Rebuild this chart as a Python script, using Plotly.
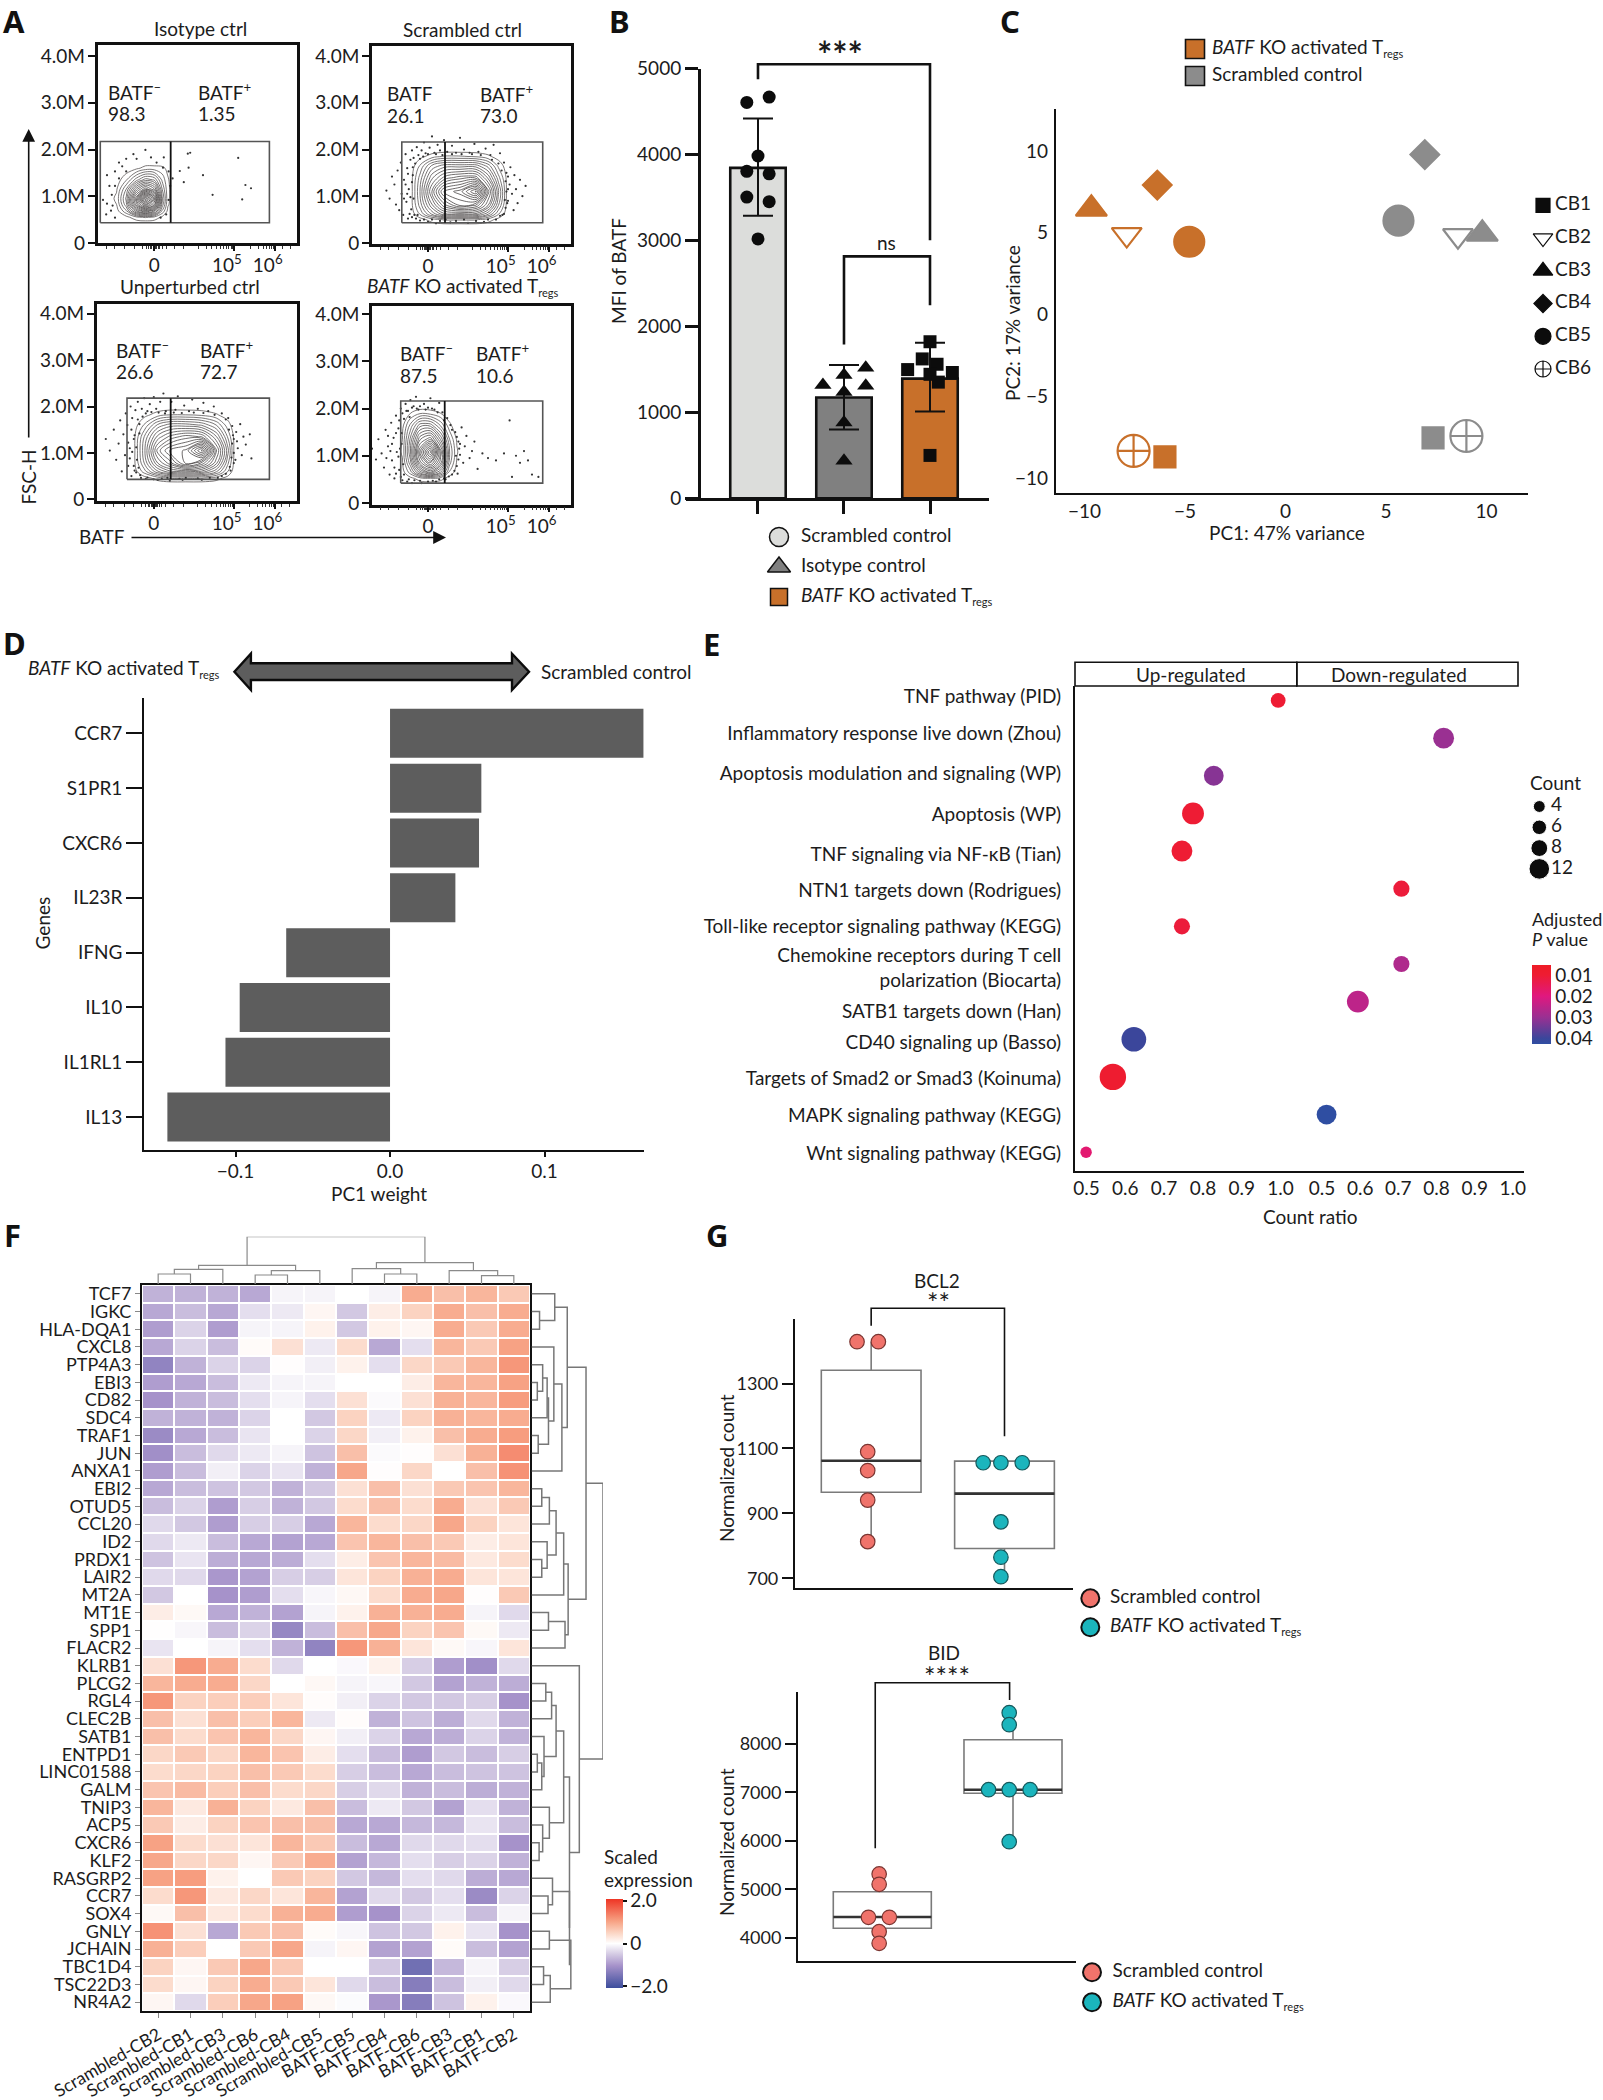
import plotly.graph_objects as go

W, H = 1603, 2100
FONT = "Lato, Open Sans, sans-serif"
FS = 19
INK = "#1c1c1c"
TREGS = "<i>BATF</i> KO activated T<sub><span style='font-size:11px'>regs</span></sub>"

# ---------- Panel A: flow cytometry ----------
flow_titles = ["Isotype ctrl", "Scrambled ctrl", "Unperturbed ctrl", TREGS]
flow_neg_labels = ["BATF<sup>–</sup>", "BATF", "BATF<sup>–</sup>", "BATF<sup>–</sup>"]
flow_neg_pct = ["98.3", "26.1", "26.6", "87.5"]
flow_pos_pct = ["1.35", "73.0", "72.7", "10.6"]
flow_y_ticks = [0, 1, 2, 3, 4]
flow_y_text = ["0", "1.0M", "2.0M", "3.0M", "4.0M"]
flow_x_ticks = [0, 1.0, 1.51]
flow_x_text = ["0", "10<sup>5</sup>&nbsp;&nbsp;&nbsp;", "10<sup>6</sup>&nbsp;&nbsp;&nbsp;"]
flow_x_minor = [-.6, -.5, -.37, -.25, -.15, -.1, -.07, -.05, -.03, -.015, .015, .03, .05, .07, .1, .15, .25, .37,
                .55, .65, .72, .78, .83, .87, .9, .93, .96, .98, 1.2, 1.3, 1.36, 1.4, 1.44, 1.47, 1.49, 1.6, 1.7]
gate_left = [-.674, -.3275, -.335, -.341]
gate_mid = [.206, .2125, .211, .209]
gate_right = [1.44, 1.434, 1.445, 1.434]
gate_low = [.43, .43, .43, .42]
gate_high = [2.17, 2.16, 2.18, 2.16]

grid_x_1 = [-.6, -.47, -.35, -.22, -.11, 0, .1, .17, .26]
grid_y_1 = [.42, .55, .68, .82, .95, 1.15, 1.35, 1.6, 1.75]
grid_z_1 = [[0, 0, 0, 0, 0, 0, 0, 0, 0],
            [0, 0, .3, 1.2, 1.5, 1.2, .4, 0, 0],
            [0, .2, 2, 6, 8, 6, 2, .4, 0],
            [0, .6, 3.5, 10, 14, 11, 3.5, .7, 0],
            [0, .8, 4, 11, 18, 13, 4, .8, 0],
            [0, .5, 3, 7.5, 10, 8, 3, .8, 0],
            [0, .1, 1.3, 3.5, 5, 4.5, 2, .7, 0],
            [0, 0, 0, .4, .9, .9, .8, .4, 0],
            [0, 0, 0, 0, 0, 0, 0, 0, 0]]
grid_x_2 = [-.35, -.2, -.1, .05, .2, .4, .6, .75, .88, .98, 1.1]
grid_y_2 = [.35, .5, .62, .8, 1.1, 1.4, 1.65, 1.85, 2.0]
grid_z_2 = [[0, 0, 0, 0, 0, 0, 0, 0, 0, 0, 0],
            [0, 0, .2, 1, 1.5, 1.5, 1.5, 1, .3, 0, 0],
            [0, .2, 1.5, 4, 6, 6, 6, 4, 1.5, .2, 0],
            [0, .5, 2.5, 6, 9, 11, 10, 7, 3, .5, 0],
            [0, .5, 3, 8, 12, 13, 16, 9, 4, .6, 0],
            [0, .5, 2.5, 6, 8, 9, 9, 6, 2.5, .5, 0],
            [0, .2, 1.5, 4, 5, 5, 5, 3.5, 1.2, .2, 0],
            [0, 0, .3, 1, 1.5, 1.5, 1.3, .8, .2, 0, 0],
            [0, 0, 0, 0, 0, 0, 0, 0, 0, 0, 0]]
grid_x_3 = [-.38, -.24, -.12, .05, .2, .4, .6, .78, .92, 1.0, 1.1]
grid_y_3 = [.32, .46, .6, .78, 1.05, 1.35, 1.6, 1.82, 2.0]
grid_z_3 = [[0, 0, 0, 0, 0, 0, 0, 0, 0, 0, 0],
            [0, 0, .2, 1, 1.5, 1.5, 1.5, 1, .3, 0, 0],
            [0, .2, 1.8, 4.5, 6, 6.5, 6, 4, 1.5, .2, 0],
            [0, .5, 3, 7, 9, 12, 10, 6.5, 2.5, .5, 0],
            [0, .5, 3.5, 9, 11, 12, 16, 8, 3.5, .6, 0],
            [0, .5, 3, 6.5, 8, 9, 8.5, 5.5, 2.2, .5, 0],
            [0, .2, 1.5, 4, 5, 5, 4.5, 3, 1, .2, 0],
            [0, 0, .3, 1, 1.4, 1.4, 1.2, .7, .2, 0, 0],
            [0, 0, 0, 0, 0, 0, 0, 0, 0, 0, 0]]
grid_x_4 = [-.45, -.32, -.22, -.1, .03, .16, .27, .36, .45]
grid_y_4 = [.38, .52, .65, .85, 1.08, 1.35, 1.65, 1.9, 2.05]
grid_z_4 = [[0, 0, 0, 0, 0, 0, 0, 0, 0],
            [0, 0, .3, 1, 1.3, .9, .2, 0, 0],
            [0, .2, 1.8, 5, 7, 4.5, 1.2, .2, 0],
            [0, .5, 3.5, 9, 12, 8, 2.5, .5, 0],
            [0, .7, 4.5, 11, 16, 9, 3, .7, 0],
            [0, .6, 4, 8.5, 10, 6, 2.2, .5, 0],
            [0, .3, 2.4, 5, 5, 2.8, .8, 0, 0],
            [0, 0, .6, 1.3, 1.1, .6, 0, 0, 0],
            [0, 0, 0, 0, 0, 0, 0, 0, 0]]

events_1 = [(-.59,1.45),(-.56,1.22),(-.53,1.03),(-.49,1.53),(-.44,1.72),(-.40,1.64),(-.26,1.90),(-.22,1.80),(-.11,1.99),(-.04,1.83),(.03,1.72),(.11,1.61),(.18,1.53),(.32,1.54),(.42,1.91),(.45,1.93),(.43,1.61),(.37,1.30),(.61,1.45),(1.05,1.82),(1.14,1.24),(1.21,1.17),(.73,1.03),(1.10,.93),(-.60,.61),(-.54,.69),(-.59,.84),(-.64,.92),(-.49,.54),(-.52,.80),(.08,.54),(.15,.61),(.18,.92),(.20,1.22),(.23,1.38),(-.35,1.80),(.12,1.83),(-.49,1.22),(-.44,1.38),(-.35,1.53)]
events_2 = [(-.52,1.12),(-.48,.95),(-.45,1.42),(-.42,1.25),(-.4,.82),(-.38,1.55),(-.36,.7),(-.34,1.72),(-.33,1.05),(-.31,.6),(-.3,1.35),(-.28,1.9),(-.27,.88),(-.26,1.6),(-.25,.52),(-.24,1.15),(-.22,1.78),(-.21,.72),(-.2,1.98),(-.19,1.45),(-.18,.95),(-.17,.6),(-.16,1.7),(-.14,2.05),(-.12,1.88),(-.1,.48),(-.08,1.98),(-.05,2.15),(-.03,1.92),(0,.45),(.02,2.04),(.05,2.28),(.08,1.93),(.1,.42),(.12,2.1),(.15,1.98),(.2,2.2),(.24,1.95),(.28,.44),(.3,2.08),(.35,1.93),(.4,2.25),(.45,2.0),(.5,.43),(.52,1.93),(.58,2.12),(.63,1.95),(.7,.45),(.72,2.02),(.78,1.88),(.82,2.1),(.85,.5),(.9,1.92),(.93,.6),(.95,1.72),(.97,.75),(.98,1.5),(1,.9),(1.02,1.25),(1.03,1.62),(1.05,1.05),(1.07,.7),(1.08,1.45),(1.1,1.15),(1.12,.85),(1.15,1.35),(1.18,1.0),(1.22,1.22),
            (-.3,.95),(-.28,1.25),(-.26,1.05),(-.25,1.48),(-.23,.62),(-.22,.98),(-.2,1.3),(-.2,.55),(-.19,1.62),(-.18,1.82),(-.15,.52),(-.13,.6),(-.1,1.8),(-.06,1.85),(-.05,.5),(0,1.9),(.05,.5),(.1,1.9),(.15,.47),(.18,1.88),(.22,.5),(.3,1.9),(.35,.47),(.42,1.9),(.45,.5),(.55,1.9),(.6,.47),(.66,1.88),(.75,.5),(.8,1.78),(.88,1.7),(.9,.58),(.92,1.55),(.95,.62),(.97,1.32),(.98,1.1),(.99,.85),(1.0,1.42),(.96,.92),(1.0,1.15)]
events_3 = [(-.6,1.3),(-.55,1.05),(-.5,1.5),(-.47,.85),(-.44,1.2),(-.42,1.7),(-.4,.6),(-.38,1.4),(-.36,.95),(-.35,1.85),(-.33,1.6),(-.32,.72),(-.3,1.1),(-.29,2.0),(-.28,.5),(-.27,1.75),(-.25,1.3),(-.24,.62),(-.23,1.92),(-.21,.85),(-.2,2.1),(-.18,1.62),(-.17,.52),(-.15,1.95),(-.12,2.18),(-.1,.44),(-.08,1.9),(-.05,2.05),(0,2.2),(.03,1.95),(.05,.42),(.08,2.1),(.12,2.28),(.15,1.9),(.2,.4),(.22,2.1),(.27,1.93),(.3,2.22),(.36,.42),(.38,2.02),(.44,1.9),(.48,2.15),(.55,1.95),(.6,.42),(.62,2.08),(.68,1.9),(.75,2.0),(.8,.46),(.85,1.85),(.9,.55),(.93,1.75),(.95,.7),(.98,1.58),(1,1.3),(1.02,.85),(1.03,1.45),(1.05,1.1),(1.08,1.62),(1.1,.95),(1.12,1.35),(1.15,1.18),(1.2,1.4),(1.22,.88),
            (-.32,1.22),(-.3,.88),(-.28,1.5),(-.27,1.02),(-.25,.72),(-.24,1.38),(-.22,1.12),(-.22,.58),(-.2,1.72),(-.19,.68),(-.18,1.42),(-.16,.46),(-.14,1.78),(-.1,1.85),(-.08,.47),(-.03,1.88),(0,.43),(.06,1.87),(.1,.44),(.14,1.85),(.17,.46),(.25,1.87),(.32,.44),(.35,1.86),(.4,.46),(.5,1.87),(.55,.45),(.62,1.86),(.7,.46),(.76,1.82),(.85,.5),(.9,1.72),(.94,1.5),(.96,.62),(.98,1.2),(1,1.0),(.99,1.38),(1.0,.78),(.97,.9),(1.04,1.25)]
events_4 = [(-.7,1.15),(-.65,.92),(-.62,1.35),(-.58,1.05),(-.55,.75),(-.53,1.55),(-.5,1.2),(-.48,.6),(-.46,1.7),(-.45,.9),(-.43,1.38),(-.42,.52),(-.4,1.85),(-.39,1.08),(-.37,1.58),(-.36,.7),(-.34,2.0),(-.33,1.25),(-.32,.48),(-.3,1.78),(-.28,2.1),(-.26,.45),(-.25,1.95),(-.22,2.18),(-.2,.42),(-.18,2.05),(-.15,2.25),(-.12,1.98),(-.08,.42),(-.05,2.1),(0,2.02),(.03,2.22),(.08,1.98),(.1,.45),(.14,2.12),(.18,1.92),(.22,.5),(.24,1.8),(.28,1.65),(.3,.6),(.34,1.5),(.36,.78),(.38,1.3),(.4,1.02),(.42,1.6),(.44,.85),(.46,1.2),(.48,1.42),(.52,.95),(.55,1.1),(.58,1.3),(.62,.72),(.68,1.05),(.75,.95),(.85,.9),(.95,1.05),(1.02,1.75),(1.1,1.0),(1.15,.85),(1.2,1.1),(1.25,.9),(1.3,.6),(1.05,.55),(1.38,.55),
            (-.52,.95),(-.5,1.42),(-.47,1.1),(-.45,1.25),(-.42,.75),(-.4,1.48),(-.4,.62),(-.37,.98),(-.36,1.75),(-.35,1.15),(-.34,.55),(-.33,1.48),(-.32,1.9),(-.31,.82),(-.3,.6),(-.27,1.95),(-.24,.5),(-.23,1.82),(-.2,2.02),(-.17,.48),(-.14,2.0),(-.1,2.05),(-.1,.47),(-.03,1.98),(0,.45),(.05,2.0),(.06,.47),(.12,1.92),(.14,.5),(.2,1.75),(.2,.52),(.26,.56),(.3,1.55),(.33,.68),(.36,1.4),(.38,.92),(.39,1.15),(.4,1.25),(.37,.62),(.35,1.0)]

# ---------- Panel B ----------
mfi_means = [3845, 1172, 1392]
mfi_upper = [4419, 1551, 1808]
mfi_lower = [3288, 799, 1010]
mfi_names = ["Scrambled control", "Isotype control", TREGS]
mfi_scr_pos = [.13, -.13, 0, -.13, .13, -.13, .13, 0]
mfi_scr = [4669, 4606, 3983, 3804, 3775, 3505, 3451, 3018]
mfi_iso_pos = [.253, -.245, 0, .253, 0, 0, 0]
mfi_iso = [1517, 1318, 1434, 1310, 1235, 881, 436]
mfi_ko_pos = [0, -.09, .082, -.26, .26, 0, .097, 0]
mfi_ko = [1821, 1621, 1559, 1497, 1463, 1442, 1351, 498]

# ---------- Panel C ----------
donors = ["CB1", "CB2", "CB3", "CB4", "CB5", "CB6"]
pc1_ko = [-6.0, -7.9, -9.66, -6.38, -4.79, -7.56]
pc2_ko = [-8.72, 4.88, 6.45, 7.91, 4.44, -8.35]
pc1_scr = [7.34, 8.58, 9.79, 6.93, 5.62, 9.0]
pc2_scr = [-7.55, 4.81, 4.92, 9.77, 5.73, -7.44]

# ---------- Panel D ----------
pc_genes = ["CCR7", "S1PR1", "CXCR6", "IL23R", "IFNG", "IL10", "IL1RL1", "IL13"]
pc_weights = [.164, .0591, .0576, .0423, -.0672, -.0973, -.1065, -.1441]

# ---------- Panel E ----------
pathways = ["TNF pathway (PID)", "Inflammatory response live down (Zhou)", "Apoptosis modulation and signaling (WP)",
            "Apoptosis (WP)", "TNF signaling via NF-κB (Tian)", "NTN1 targets down (Rodrigues)",
            "Toll-like receptor signaling pathway (KEGG)",
            "Chemokine receptors during T cell<br>polarization (Biocarta)", "SATB1 targets down (Han)",
            "CD40 signaling up (Basso)", "Targets of Smad2 or Smad3 (Koinuma)", "MAPK signaling pathway (KEGG)",
            "Wnt signaling pathway (KEGG)"]
path_label_rows = [-.11, .885, 1.93, 3.02, 4.09, 5.05, 6.0, 7.11, 8.26, 9.09, 10.05, 11.03, 12.04]
path_up = [True, False, True, True, True, False, True, False, False, True, True, False, True]
path_ratio = [.994, .8186, .828, .7745, .746, .708, .746, .708, .594, .622, .568, .512, .499]
path_count = [5, 10, 9, 11, 10, 6, 6, 6, 11, 14, 16, 9, 3]
path_padj = [.01, .03, .032, .01, .01, .011, .011, .027, .025, .04, .009, .043, .018]
count_key = [4, 6, 8, 12]

# ---------- Panel F ----------
heat_cols = ["Scrambled-CB2", "Scrambled-CB1", "Scrambled-CB3", "Scrambled-CB6", "Scrambled-CB4", "Scrambled-CB5",
             "BATF-CB5", "BATF-CB4", "BATF-CB6", "BATF-CB3", "BATF-CB1", "BATF-CB2"]
heat_rows = ["TCF7", "IGKC", "HLA-DQA1", "CXCL8", "PTP4A3", "EBI3", "CD82", "SDC4", "TRAF1", "JUN", "ANXA1", "EBI2",
             "OTUD5", "CCL20", "ID2", "PRDX1", "LAIR2", "MT2A", "MT1E", "SPP1", "FLACR2", "KLRB1", "PLCG2", "RGL4",
             "CLEC2B", "SATB1", "ENTPD1", "LINC01588", "GALM", "TNIP3", "ACP5", "CXCR6", "KLF2", "RASGRP2", "CCR7",
             "SOX4", "GNLY", "JCHAIN", "TBC1D4", "TSC22D3", "NR4A2"]
heat_values = [
    [-.7,-.7,-.7,-.8,-.1,-.1,0,-.1,.9,.7,.8,.6],
    [-.8,-.6,-.8,-.3,-.2,.1,-.5,.2,.5,.9,.7,.9],
    [-.9,-.4,-.9,-.1,-.1,.15,-.5,.15,.1,.9,.6,.9],
    [-.8,-.4,-.6,.05,.35,-.2,.4,-.8,-.3,.8,.6,1.0],
    [-1.2,-.7,-.4,-.4,.02,-.15,.15,-.3,.45,.6,.8,1.1],
    [-.9,-.8,-.6,-.2,-.1,-.1,0,0,.2,.8,.8,1.0],
    [-1.0,-.7,-.6,-.3,-.1,-.3,.35,-.05,.35,.85,.8,1.05],
    [-.7,-.7,-.7,-.4,0,-.5,.5,-.2,.5,.85,.8,.9],
    [-1.1,-.8,-.6,-.25,0,-.4,.45,-.15,.15,.7,.9,1.05],
    [-1.05,-.6,-.35,-.2,-.1,-.55,.7,-.05,.02,.35,.85,1.2],
    [-.9,-.6,-.15,-.4,-.25,-.7,.95,.02,.45,0,.7,1.15],
    [-.8,-.6,-.55,-.5,-.7,-.5,.35,.7,.35,.6,.65,.8],
    [-.6,-.4,-.9,-.45,-.7,-.5,.4,.7,.4,.9,.35,.6],
    [-.35,-.5,-.9,-.45,-.45,-.8,.8,.4,.45,.95,.5,.3],
    [-.35,-.2,-.6,-.8,-.85,-.8,.65,.8,.7,.6,.2,.3],
    [-.55,-.25,-.75,-.8,-.75,-.3,.2,.65,.8,.75,.25,.4],
    [-.35,-.35,-.95,-.85,-.45,-.45,.3,.5,.85,.9,.3,.3],
    [-.5,0,-1.0,-.9,-.3,-.08,.08,.4,.9,.95,.02,.6],
    [.2,.07,-.8,-.7,-.85,-.1,.15,.85,.85,.9,-.1,-.35],
    [.01,-.08,-.6,-.4,-1.15,-.6,.7,.95,.5,.65,.07,-.2],
    [-.25,0,-.1,-.3,-.7,-1.2,1.1,.85,.3,.07,-.08,.3],
    [.35,1.1,.9,.4,-.35,0,-.06,.15,-.45,-.9,-1.05,-.35],
    [.8,.9,.9,.45,0,.08,-.1,-.08,-.5,-.85,-.7,-.75],
    [1.1,.5,.55,.55,.3,.03,-.15,-.4,-.5,-.5,-.45,-1.0],
    [.7,.35,.7,.55,.8,-.2,.03,-.7,-.55,-.75,-.35,-.7],
    [.7,.4,.65,.8,.45,.1,-.15,-.4,-.8,-.75,-.4,-.7],
    [.45,.6,.45,.8,.65,.2,-.3,-.6,-.9,-.5,-.6,-.45],
    [.4,.45,.5,.7,.6,.4,-.45,-.6,-.8,-.6,-.55,-.55],
    [.65,.75,.55,.7,.4,.45,-.45,-.35,-.7,-.6,-.75,-.7],
    [.8,.25,.85,.5,.25,.7,-.6,-.2,-.5,-.85,-.3,-.7],
    [.6,.2,.5,.65,.7,.7,-.8,-.8,-.65,-.65,-.25,-.6],
    [1.0,.4,.35,.3,.8,.6,-.6,-.8,-.35,-.35,-.3,-1.0],
    [.95,.45,.45,.1,.6,.9,-.85,-.65,-.3,-.45,-.4,-.7],
    [1.0,1.05,.15,0,.6,.5,-.5,-.65,-.3,-.35,-.75,-.8],
    [.4,1.1,.25,.45,.3,.8,-.85,-.35,-.5,-.3,-1.1,-.4],
    [.07,.7,.25,.4,.85,.9,-.9,-1.0,-.4,-.2,-.6,-.1],
    [1.15,.35,-.8,.6,.7,.05,-.08,-.55,-.5,.15,-.25,-1.0],
    [.85,.55,0,.6,.95,-.1,.1,-.85,-.85,.05,-.6,-.85],
    [.5,.1,.6,.95,.6,0,0,-.5,-1.5,-.65,-.1,-.45],
    [.4,.1,.5,.9,.6,.3,-.35,-.6,-1.3,-.6,-.15,-.35],
    [.1,-.35,.55,.95,1.0,.08,-.04,-.95,-1.3,-.55,.15,-.06],
]
col_merges = [(0,1,30),(12,2,44),(3,4,27),(14,5,40),(13,15,56),(7,8,30),(6,17,46),(10,11,25),(9,19,40),(18,20,64),(16,21,142)]
row_merges = [(1,2,18),(0,41,52),(5,6,13),(4,43,25),(44,7,35),(8,9,15),(45,46,38),(3,47,50),(48,10,68),(42,49,80),
              (11,12,23),(51,13,40),(15,16,23),(14,53,35),(52,54,55),(55,17,72),(18,19,38),(57,20,75),(56,58,82),(50,59,122),
              (22,23,32),(61,24,45),(26,27,13),(63,28,23),(25,64,28),(62,65,55),(31,32,17),(30,67,25),(29,68,40),(66,69,72),
              (34,35,37),(33,71,47),(36,37,40),(38,39,27),(74,40,42),(73,75,88),(72,76,85),(70,77,85),(21,78,107),(60,79,160)]

# ---------- Panel G ----------
bcl2_scr_pos = [-.106, .054, -.026, -.026, -.026, -.026]
bcl2_scr = [1429, 1429, 1090, 1032, 941, 813]
bcl2_ko_pos = [-.16, -.027, .133, -.027, -.027, -.027]
bcl2_ko = [1056, 1056, 1056, 874, 765, 705]
bcl2_box = dict(q1=[965, 792], median=[1062, 961], q3=[1341, 1061], lowerfence=[813, 705], upperfence=[1429, 1061])
bid_scr_pos = [-.024, -.024, -.106, .054, -.024, -.024]
bid_scr = [5316, 5103, 4423, 4423, 4126, 3887]
bid_ko_pos = [-.029, -.029, -.187, -.029, .131, -.029]
bid_ko = [8641, 8394, 7054, 7054, 7054, 5981]
bid_box = dict(q1=[4196, 6979], median=[4429, 7054], q3=[4951, 8085], lowerfence=[3887, 5981], upperfence=[5316, 8641])

# ---------- Colours ----------
ORANGE = "#c8702a"
GREY = "#8c8c8c"
SALMON = "#f0736b"
TEAL = "#1bb5bd"

fig = go.Figure()
layout = dict(width=W, height=H, autosize=False, margin=dict(l=0, r=0, t=0, b=0, pad=0), paper_bgcolor="white",
              template="none",
              plot_bgcolor="rgba(0,0,0,0)", showlegend=False, font=dict(family=FONT, size=FS, color=INK),
              annotations=[], shapes=[])
axn = [0]


def hdom(a, b):
    return [a / W, b / W]


def vdom(top, bottom):
    return [1 - bottom / H, 1 - top / H]


def add_axes(xr, yr, xopts=None, yopts=None):
    axn[0] += 1
    n = axn[0]
    sfx = "" if n == 1 else str(n)
    base = dict(showgrid=False, zeroline=False, showline=False, ticks="", showticklabels=False, automargin=False,
                tickfont=dict(family=FONT, size=FS, color=INK))
    xa = dict(base, domain=hdom(*xr), anchor="y" + sfx)
    ya = dict(base, domain=vdom(*yr), anchor="x" + sfx)
    xa.update(xopts or {})
    ya.update(yopts or {})
    layout["xaxis" + sfx] = xa
    layout["yaxis" + sfx] = ya
    return "x" + sfx, "y" + sfx


def text(x, y, s, size=FS, xa="left", ya="middle", **kw):
    layout["annotations"].append(dict(x=x / W, y=1 - y / H, xref="paper", yref="paper", text=s, showarrow=False,
                                      xanchor=xa, yanchor=ya, borderpad=0, borderwidth=0,
                                      font=dict(family=kw.pop("family", FONT), size=size, color=kw.pop("color", INK)),
                                      **kw))


def letter(x, y, s):
    text(x, y, "<b>%s</b>" % s, size=31, family="Noto Sans, Open Sans, sans-serif", color="#111")


def arrow(x, y, dx, dy):
    layout["annotations"].append(dict(x=x / W, y=1 - y / H, xref="paper", yref="paper", text="", showarrow=True,
                                      ax=dx, ay=dy, axref="pixel", ayref="pixel", arrowhead=2, arrowsize=1.6,
                                      arrowwidth=1.6, arrowcolor="#111"))


def key(xc, text_left, rows, names, symbols, colors, sizes, lines=None, lw=1.5, size=FS):
    n = len(names)
    xa, ya = add_axes((xc, text_left), rows, dict(range=[0, 1], visible=False),
                      dict(range=[n - 1, 0], visible=False))
    fig.add_trace(go.Scatter(x=[0] * n, y=list(range(n)), xaxis=xa, yaxis=ya, mode="markers", cliponaxis=False,
                             hoverinfo="skip",
                             marker=dict(symbol=symbols, color=colors, size=sizes, opacity=1,
                                         line=dict(color=lines or "#111", width=lw))))
    fig.add_trace(go.Scatter(x=[1] * n, y=list(range(n)), xaxis=xa, yaxis=ya, mode="text", cliponaxis=False,
                             text=names, textposition="middle right", hoverinfo="skip",
                             textfont=dict(family=FONT, size=size, color=INK)))


def bracket(xr, yr, xrange, yrange, xs, ys, width, extra=40):
    # drawn on a hidden copy of the panel's axes, extended upward so the bar above the axis is kept
    top = yrange[1] + (yrange[1] - yrange[0]) * extra / (yr[1] - yr[0])
    xa, ya = add_axes(xr, (yr[0] - extra, yr[1]), dict(range=xrange, visible=False),
                      dict(range=[yrange[0], top], visible=False))
    fig.add_trace(go.Scatter(x=xs, y=ys, xaxis=xa, yaxis=ya, mode="lines", cliponaxis=False, hoverinfo="skip",
                             line=dict(color="#111", width=width)))


# ========== A ==========
flow_frames = [((97.6, 296.6), (45.4, 242.9), 154.2, 242.9, 46.7),
               ((372, 571), (46.4, 243.9), 428, 242.9, 46.7),
               ((96.8, 296.6), (303.6, 501), 153.8, 499.3, 46.4),
               ((372, 571), (306.4, 504.6), 428, 502.9, 47.15)]
flow_grids = [(grid_x_1, grid_y_1, grid_z_1), (grid_x_2, grid_y_2, grid_z_2),
              (grid_x_3, grid_y_3, grid_z_3), (grid_x_4, grid_y_4, grid_z_4)]
flow_events = [events_1, events_2, events_3, events_4]
flow_title_pos = [(200, 28.6), (462, 29.3), (190, 286.4), (463, 286.8)]
flow_neg_pos = [(107.5, 91.4, 113.6), (386.5, 93.6, 115), (115.6, 349.3, 371.4), (400, 352.9, 375)]
flow_pos_x = [197.9, 480, 199.8, 475.7]
for i in range(4):
    xr, yr, x0, y0, perm = flow_frames[i]
    scale = 80.0
    frame = dict(showline=True, mirror=True, linecolor="#111", linewidth=2.6, ticks="outside", tickcolor="#111",
                 tickwidth=2, showticklabels=True)
    xo = dict(frame, range=[(xr[0] - x0) / scale, (xr[1] - x0) / scale], tickmode="array", tickvals=flow_x_ticks,
              ticktext=flow_x_text, ticklen=5, ticklabelstandoff=-2, tickangle=0,
              minor=dict(tickmode="array", tickvals=flow_x_minor, ticks="outside", ticklen=3, tickwidth=1, tickcolor="#333"))
    yo = dict(frame, range=[(y0 - yr[1]) / perm, (y0 - yr[0]) / perm], tickmode="array", tickvals=flow_y_ticks,
              ticktext=flow_y_text, ticklen=7, ticklabelstandoff=-1)
    xa, ya = add_axes(xr, yr, xo, yo)
    gx, gy, gz = flow_grids[i]
    fig.add_trace(go.Contour(x=gx, y=gy, z=gz, xaxis=xa, yaxis=ya, showscale=False, hoverinfo="skip",
                             contours=dict(coloring="lines", start=.6, end=18, size=.8),
                             colorscale=[[0, "#5a5656"], [1, "#3e3a3a"]], line=dict(width=.8, smoothing=1.0)))
    ex = [e[0] for e in flow_events[i]]
    ey = [e[1] for e in flow_events[i]]
    fig.add_trace(go.Scatter(x=ex, y=ey, xaxis=xa, yaxis=ya, mode="markers", hoverinfo="skip",
                             marker=dict(size=2.2, color="#333")))
    gl, gm, gr, lo, hi = gate_left[i], gate_mid[i], gate_right[i], gate_low[i], gate_high[i]
    fig.add_trace(go.Scatter(x=[gl, gr, gr, gl, gl], y=[lo, lo, hi, hi, lo], xaxis=xa, yaxis=ya, mode="lines",
                             hoverinfo="skip", line=dict(color="#555", width=1.6)))
    fig.add_trace(go.Scatter(x=[gm, gm], y=[lo, hi], xaxis=xa, yaxis=ya, mode="lines", hoverinfo="skip",
                             line=dict(color="#111", width=1.8)))
    tx, ty = flow_title_pos[i]
    text(tx, ty, flow_titles[i], xa="center")
    nx, ny1, ny2 = flow_neg_pos[i]
    text(nx, ny1, flow_neg_labels[i])
    text(nx, ny2, flow_neg_pct[i])
    text(flow_pos_x[i], ny1, "BATF<sup>+</sup>")
    text(flow_pos_x[i], ny2, flow_pos_pct[i])
text(28.7, 476.8, "FSC-H", xa="center", textangle=-90)
text(102, 536.8, "BATF", xa="center")
arrow(28.7, 129, 0, 310)
arrow(446, 537.5, -316, 0)
letter(3, 21.4, "A")

# ========== B ==========
b_x, b_y = [-.837, 2.686], [0, 5000]
xa, ya = add_axes((686, 989), (68.6, 498.2),
                  dict(range=b_x, showline=True, linecolor="#111", linewidth=3.4, ticks="outside",
                       ticklen=13, tickwidth=2.5, tickcolor="#111", tickmode="array", tickvals=[0, 1, 2]),
                  dict(range=b_y, anchor="free", position=699 / W, showline=True, linecolor="#111", linewidth=3,
                       ticks="outside", ticklen=13, tickwidth=2.5, tickcolor="#111", showticklabels=True,
                       tickmode="array", tickvals=[0, 1000, 2000, 3000, 4000, 5000]))
fig.add_trace(go.Bar(x=[0, 1, 2], y=mfi_means, xaxis=xa, yaxis=ya, width=.645, hoverinfo="skip",
                     marker=dict(color=["#dcdddb", "#808080", ORANGE], line=dict(color="#111", width=2.6)),
                     error_y=dict(type="data", symmetric=False,
                                  array=[u - m for u, m in zip(mfi_upper, mfi_means)],
                                  arrayminus=[m - l for l, m in zip(mfi_lower, mfi_means)],
                                  color="#111", thickness=2, width=15)))
for cat, pos, vals, sym, sz in [(0, mfi_scr_pos, mfi_scr, "circle", 13), (1, mfi_iso_pos, mfi_iso, "triangle-up", 15),
                                (2, mfi_ko_pos, mfi_ko, "square", 13)]:
    fig.add_trace(go.Scatter(x=[cat + p for p in pos], y=vals, xaxis=xa, yaxis=ya, mode="markers", hoverinfo="skip",
                             cliponaxis=False, marker=dict(symbol=sym, size=sz, color="#0c0c0c")))
bracket((686, 989), (68.6, 498.2), b_x, b_y, [0, 0, 2, 2], [4877, 5051, 5051, 3001], 2.6)
bracket((686, 989), (68.6, 498.2), b_x, b_y, [1, 1, 2, 2], [1788, 2815, 2815, 2245], 2.6)
text(840, 54, "<b>***</b>", size=36, xa="center")
text(886, 243, "ns", xa="center")
text(618, 271, "MFI of BATF", xa="center", textangle=-90)
key(779, 801, (537, 597), mfi_names, ["circle", "triangle-up", "square"], ["#dcdddb", "#808080", ORANGE], [19, 20, 17])
letter(609, 21.4, "B")

# ========== C ==========
xa, ya = add_axes((1056, 1527.7), (109, 492.9),
                  dict(range=[-11.42, 12.05], showline=True, linecolor="#111", linewidth=2.2, showticklabels=True,
                       tickmode="array", tickvals=[-10, -5, 0, 5, 10], ticklabelstandoff=0),
                  dict(range=[-10.92, 12.56], showline=True, linecolor="#111", linewidth=2.2, showticklabels=True,
                       tickmode="array", tickvals=[-10, -5, 0, 5, 10], ticklabelstandoff=2))
pca_symbols = ["square", "triangle-down-open", "triangle-up", "diamond", "circle", "circle-cross-open"]
pca_sizes = [21, 26, 27, 22, 30, 32]
for xs, ys, col in [(pc1_ko, pc2_ko, ORANGE), (pc1_scr, pc2_scr, GREY)]:
    fig.add_trace(go.Scatter(x=xs, y=ys, xaxis=xa, yaxis=ya, mode="markers", hoverinfo="text", text=donors,
                             marker=dict(symbol=pca_symbols, size=pca_sizes, color=col, opacity=1,
                                         line=dict(color=col, width=2.2))))
text(1287, 532, "PC1: 47% variance", xa="center")
text(1012, 323, "PC2: 17% variance", xa="center", textangle=-90)
key(1195, 1212, (49, 76), [TREGS, "Scrambled control"], ["square", "square"], [ORANGE, GREY], [19, 19], lw=1.6)
key(1543, 1555, (205.4, 369), donors, pca_symbols, ["#0c0c0c"] * 6, [14, 17, 17, 14, 16, 16], lines="#0c0c0c", lw=1.2)
letter(1000, 21.4, "C")

# ========== D ==========
xa, ya = add_axes((144.2, 644.2), (697.7, 1150),
                  dict(range=[-.1591, .1645], showline=True, linecolor="#111", linewidth=2, ticks="outside", ticklen=5,
                       tickcolor="#111", tickwidth=1.5, showticklabels=True, tickmode="array",
                       tickvals=[-.1, 0, .1], ticktext=["−0.1", "0.0", "0.1"], ticklabelstandoff=-2),
                  dict(range=[7.6, -.65], type="linear", showline=True, linecolor="#111", linewidth=2, ticks="outside",
                       ticklen=16, tickcolor="#111", tickwidth=1.5, showticklabels=True, tickmode="array",
                       tickvals=list(range(len(pc_genes))), ticktext=pc_genes))
fig.add_trace(go.Bar(y=list(range(len(pc_genes))), x=pc_weights, orientation="h", xaxis=xa, yaxis=ya, width=.894,
                     hoverinfo="skip", marker=dict(color="#5d5d5d", line=dict(width=0))))
text(42.4, 923, "Genes", xa="center", textangle=-90)
text(378.6, 1193, "PC1 weight", xa="center")
text(27.7, 669, TREGS)
text(541, 671.7, "Scrambled control")
arrow_pts = [(234.4, 671.7), (250.9, 653.7), (250.9, 663.2), (512, 663.2), (512, 653.7), (529, 671.7), (512, 690),
             (512, 680), (250.9, 680), (250.9, 690)]
layout["shapes"].append(dict(type="path", xref="paper", yref="paper",
                             path="M " + " L ".join("%.5f,%.5f" % (a / W, 1 - b / H) for a, b in arrow_pts) + " Z",
                             fillcolor="#5d5d5d", line=dict(color="#0c0c0c", width=2.4)))
letter(3, 643, "D")

# ========== E ==========
e_y = dict(range=[12.5, -.385], showline=True, linecolor="#111", linewidth=2, showticklabels=True, tickmode="array",
           tickvals=path_label_rows, ticktext=pathways, ticklabelstandoff=8)
e_x = dict(showline=True, linecolor="#111", linewidth=2, showticklabels=True, tickmode="array",
           tickvals=[.5, .6, .7, .8, .9, 1.0], ticktext=["0.5", "0.6", "0.7", "0.8", "0.9", "1.0"], ticklabelstandoff=-1)
xl, yl = add_axes((1075, 1296.8), (686, 1171), dict(e_x, range=[.4704, 1.042]), e_y)
xr_, yr_ = add_axes((1296.8, 1524.3), (686, 1171), dict(e_x, range=[.434, 1.03]), dict(range=[12.5, -.385]))


def count_size(c):
    return 6.6 * c ** .5


for flag, xax, yax in [(True, xl, yl), (False, xr_, yr_)]:
    idx = [i for i, u in enumerate(path_up) if u == flag]
    fig.add_trace(go.Scatter(x=[path_ratio[i] for i in idx], y=idx, xaxis=xax, yaxis=yax, mode="markers",
                             hoverinfo="skip", cliponaxis=False,
                             marker=dict(size=[count_size(path_count[i]) for i in idx], opacity=1,
                                         color=[-path_padj[i] for i in idx], coloraxis="coloraxis",
                                         line=dict(width=0))))
layout["coloraxis"] = dict(cmin=-.0427, cmax=-.0051,
                           colorscale=[[0, "#2f4ea2"], [.072, "#3b469b"], [.339, "#9a3092"], [.605, "#e0187f"],
                                       [.872, "#ee1c33"], [1, "#ee1c25"]],
                           colorbar=dict(x=1531.8 / W, xanchor="left", xpad=0, ypad=0, y=1 - 965.3 / H, yanchor="top",
                                         thickness=19, thicknessmode="pixels", len=79.2, lenmode="pixels",
                                         outlinewidth=0, ticks="", tickmode="array",
                                         tickvals=[-.01, -.02, -.03, -.04], ticktext=["0.01", "0.02", "0.03", "0.04"],
                                         tickfont=dict(family=FONT, size=FS, color=INK)))
for bx0, bx1 in [(1075, 1296.8), (1296.8, 1518)]:
    layout["shapes"].append(dict(type="rect", xref="paper", yref="paper", x0=bx0 / W, x1=bx1 / W, y0=1 - 686 / H,
                                 y1=1 - 662.2 / H, line=dict(color="#111", width=1.6), fillcolor="rgba(0,0,0,0)"))
text(1191.4, 675, "Up-regulated", xa="center")
text(1399.3, 675, "Down-regulated", xa="center")
text(1310, 1216.7, "Count ratio", xa="center")
text(1529.5, 782, "Count")
text(1531.8, 919.4, "Adjusted", size=18)
text(1531.8, 938.5, "<i>P</i> value", size=18)
cxa, cya = add_axes((1539.3, 1551), (806.5, 868.9), dict(range=[0, 1], visible=False),
                    dict(range=[3, 0], visible=False))
fig.add_trace(go.Scatter(x=[0] * 4, y=[0, 1, 2, 3], xaxis=cxa, yaxis=cya, mode="markers", cliponaxis=False,
                         hoverinfo="skip",
                         marker=dict(size=[count_size(c) * .9 for c in count_key], color="#0c0c0c", opacity=1)))
fig.add_trace(go.Scatter(x=[1] * 4, y=[0, 1, 2, 3], xaxis=cxa, yaxis=cya, mode="text", cliponaxis=False,
                         hoverinfo="skip", text=[str(c) for c in count_key], textposition="middle right",
                         textfont=dict(family=FONT, size=FS, color=INK)))
letter(703, 644, "E")

# ========== F ==========
xa, ya = add_axes((142, 530), (1285, 2011),
                  dict(showline=True, mirror=True, linecolor="#111", linewidth=2, ticks="outside", ticklen=5,
                       tickcolor="#888", tickwidth=1, showticklabels=True, tickangle=-30, tickmode="array",
                       tickvals=list(range(12)), ticktext=heat_cols, range=[-.5, 11.5],
                       tickfont=dict(family=FONT, size=17.5, color=INK)),
                  dict(showline=True, mirror=True, linecolor="#111", linewidth=2, ticks="outside", ticklen=5,
                       tickcolor="#888", tickwidth=1, showticklabels=True, tickmode="array",
                       tickvals=list(range(41)), ticktext=heat_rows, range=[40.5, -.5],
                       tickfont=dict(family=FONT, size=18, color=INK)))
fig.add_trace(go.Heatmap(z=heat_values, x=list(range(12)), y=list(range(41)), xaxis=xa, yaxis=ya, xgap=2, ygap=2,
                         coloraxis="coloraxis2", hoverinfo="skip"))
layout["coloraxis2"] = dict(cmin=-2, cmax=2,
                            colorscale=[[0, "#3c4d9c"], [.25, "#a692ca"], [.375, "#d2c8e2"], [.5, "#ffffff"],
                                        [.625, "#fbd3c1"], [.75, "#f7a284"], [1, "#ee3524"]],
                            colorbar=dict(x=606 / W, xanchor="left", xpad=0, ypad=0, y=1 - 1899 / H, yanchor="top",
                                          thickness=17, thicknessmode="pixels", len=88.7, lenmode="pixels",
                                          outlinewidth=0, ticks="outside", ticklen=4, tickwidth=2, tickcolor="#111",
                                          tickmode="array", tickvals=[-1.93, 0, 1.93], ticktext=["−2.0", "0", "2.0"],
                                          tickfont=dict(family=FONT, size=FS, color=INK)))
text(604, 1856.7, "Scaled")
text(604, 1879, "expression")


def dendro(merges, n_leaves):
    pos = {i: (float(i), 0.0) for i in range(n_leaves)}
    us, vs = [], []
    for k, (a, b, h) in enumerate(merges):
        pa, ha = pos[a]
        pb, hb = pos[b]
        us += [pa, pa, pb, pb, None]
        vs += [ha, h, h, hb, None]
        pos[n_leaves + k] = ((pa + pb) / 2, h)
    return us, vs


cu, cv = dendro(col_merges, 12)
xa, ya = add_axes((142, 530), (1236.7, 1284), dict(range=[-.5, 11.5], visible=False), dict(range=[0, 142], visible=False))
fig.add_trace(go.Scatter(x=cu, y=cv, xaxis=xa, yaxis=ya, mode="lines", hoverinfo="skip", cliponaxis=False,
                         line=dict(color="#8a8a8a", width=1.2)))
ru, rv = dendro(row_merges, 41)
xa, ya = add_axes((531.5, 603), (1285, 2011), dict(range=[0, 160], visible=False), dict(range=[40.5, -.5], visible=False))
fig.add_trace(go.Scatter(x=rv, y=ru, xaxis=xa, yaxis=ya, mode="lines", hoverinfo="skip", cliponaxis=False,
                         line=dict(color="#777", width=1.5)))
letter(4, 1235, "F")


# ========== G ==========
def box_panel(xr, yr, xrange, yrange, yticks, box, scr_pos, scr, ko_pos, ko, width, bracket_x, bracket_y):
    xa, ya = add_axes(xr, yr, dict(range=xrange, showline=True, linecolor="#111", linewidth=2),
                      dict(range=yrange, showline=True, linecolor="#111", linewidth=2, ticks="outside", ticklen=11,
                           tickcolor="#111", tickwidth=1.5, showticklabels=True, tickmode="array", tickvals=yticks,
                           tickfont=dict(family=FONT, size=18, color=INK)))
    for i in range(2):
        fig.add_trace(go.Box(x=[i], q1=[box["q1"][i]], median=[box["median"][i]], q3=[box["q3"][i]],
                             lowerfence=[box["lowerfence"][i]], upperfence=[box["upperfence"][i]], width=width,
                             whiskerwidth=0, boxpoints=False, xaxis=xa, yaxis=ya, hoverinfo="skip",
                             fillcolor="rgba(255,255,255,0)", line=dict(color="#7a7a7a", width=1.6)))
        fig.add_trace(go.Scatter(x=[i - width / 2, i + width / 2], y=[box["median"][i]] * 2, xaxis=xa, yaxis=ya,
                                 mode="lines", hoverinfo="skip", line=dict(color="#333", width=2.6)))
    fig.add_trace(go.Scatter(x=scr_pos, y=scr, xaxis=xa, yaxis=ya, mode="markers", cliponaxis=False, hoverinfo="skip",
                             marker=dict(size=14.5, color=SALMON, line=dict(color="#7a3531", width=1.2))))
    fig.add_trace(go.Scatter(x=[1 + p for p in ko_pos], y=ko, xaxis=xa, yaxis=ya, mode="markers", cliponaxis=False,
                             hoverinfo="skip", marker=dict(size=14.5, color=TEAL, line=dict(color="#15595c", width=1.2))))
    bracket(xr, yr, xrange, yrange, bracket_x, bracket_y, 1.6)


g_names = ["Scrambled control", TREGS]
box_panel((794.9, 1072.5), (1319.3, 1588.3), [-.572, 1.51], [669.2, 1498], [700, 900, 1100, 1300], bcl2_box,
          bcl2_scr_pos, bcl2_scr, bcl2_ko_pos, bcl2_ko, .748, [0, 0, 1, 1], [1478, 1532, 1532, 1138])
text(936.5, 1280, "BCL2", xa="center")
text(938, 1302, "**", size=27, xa="center")
text(726, 1468, "Normalized count", xa="center", textangle=-90)
key(1090.3, 1110, (1598.3, 1627.3), g_names, ["circle", "circle"], [SALMON, TEAL], [18, 18], lw=2)

bid_low = 6000 + (1840.8 - 1961) / .0485
bid_high = 6000 + (1840.8 - 1692.3) / .0485
box_panel((798, 1075.6), (1692.3, 1961), [-.645, 1.479], [bid_low, bid_high], [4000, 5000, 6000, 7000, 8000], bid_box,
          bid_scr_pos, bid_scr, bid_ko_pos, bid_ko, .75, [-.054, -.054, .974, .974], [5845, 9260, 9260, 8902])
text(944.4, 1652.7, "BID", xa="center")
text(947, 1676, "****", size=27, xa="center")
text(726, 1842, "Normalized count", xa="center", textangle=-90)
key(1092, 1112.4, (1972.3, 2002.3), g_names, ["circle", "circle"], [SALMON, TEAL], [18, 18], lw=2)
letter(706, 1235, "G")

fig.update_layout(**layout)
fig.write_html("out.html", post_script="document.body.style.margin='0';", config=dict(displayModeBar=False))
